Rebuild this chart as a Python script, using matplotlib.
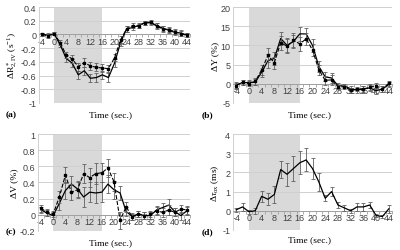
import matplotlib
matplotlib.use("Agg")
import matplotlib.pyplot as plt
import numpy as np

plt.rcParams['axes.unicode_minus'] = False
plt.rcParams['mathtext.fontset'] = 'custom'
plt.rcParams['mathtext.rm'] = 'Liberation Serif'
plt.rcParams['mathtext.it'] = 'Liberation Serif:italic'
plt.rcParams['mathtext.bf'] = 'Liberation Serif:bold'

time = [-4, -2, 0, 2, 4, 6, 8, 10, 12, 14, 16, 18, 20, 22, 24, 26, 28, 30, 32, 34, 36, 38, 40, 42, 44]
xtick_vals = [-4, 0, 4, 8, 12, 16, 20, 24, 28, 32, 36, 40, 44]

# Panel (a): delta R2* IV
a_dash = [0, -0.02, 0.01, -0.12, -0.30, -0.36, -0.47, -0.41, -0.46, -0.48, -0.49, -0.50, -0.34,
          -0.08, 0.08, 0.13, 0.12, 0.17, 0.18, 0.12, 0.08, 0.07, 0.04, 0.01, -0.01]
a_dash_err = [0.02, 0.03, 0.02, 0.04, 0.05, 0.06, 0.06, 0.06, 0.06, 0.06, 0.06, 0.05, 0.05,
              0.05, 0.04, 0.03, 0.03, 0.03, 0.03, 0.04, 0.04, 0.04, 0.04, 0.04, 0.03]
a_solid = [0, -0.01, 0.01, -0.15, -0.35, -0.42, -0.59, -0.53, -0.64, -0.63, -0.59, -0.63, -0.42,
           -0.12, 0.08, 0.10, 0.13, 0.17, 0.17, 0.13, 0.09, 0.06, 0.03, 0.02, -0.01]
a_solid_err = [0.02, 0.03, 0.02, 0.04, 0.05, 0.06, 0.06, 0.06, 0.06, 0.06, 0.06, 0.07, 0.06,
               0.05, 0.04, 0.03, 0.03, 0.03, 0.03, 0.04, 0.04, 0.04, 0.04, 0.04, 0.03]

# Panel (b): delta Y
b_dash = [-0.5, 0.4, 0, 0.6, 3.6, 7.4, 5.5, 10.7, 9.8, 11.3, 10.4, 11.7, 8.8, 3.6, 0.9, 1.0,
          -0.8, -0.8, -1.7, -1.4, -1.5, -0.9, -0.6, -1.3, 0.1]
b_dash_err = [0.8, 0.6, 0.6, 0.8, 1.2, 1.8, 1.6, 1.8, 1.8, 1.8, 1.8, 1.6, 1.6, 1.4, 1.2, 1.2,
              0.6, 0.6, 0.6, 0.6, 0.8, 0.8, 0.8, 0.8, 0.6]
b_solid = [-0.3, 0.3, 0.3, 0.4, 3.0, 6.0, 6.6, 11.8, 10.0, 11.0, 13.0, 13.0, 10.0, 4.5, 1.8, 1.5,
           -0.5, -0.6, -1.3, -1.7, -1.3, -1.1, -1.8, -1.4, -0.2]
b_solid_err = [0.8, 0.6, 0.6, 0.8, 1.2, 1.8, 1.6, 1.8, 1.8, 1.8, 1.8, 1.6, 1.6, 1.4, 1.2, 1.2,
               0.6, 0.6, 0.6, 0.6, 0.8, 0.8, 0.8, 0.8, 0.6]

# Panel (c): delta V
c_dash = [0.08, 0.03, 0.01, 0.22, 0.49, 0.28, 0.31, 0.51, 0.46, 0.51, 0.52, 0.58, 0.41, -0.07,
          0.10, -0.03, 0.01, -0.01, 0.01, 0.05, 0.03, 0.06, 0.03, 0.07, 0.06]
c_dash_err = [0.04, 0.04, 0.04, 0.08, 0.10, 0.10, 0.10, 0.12, 0.12, 0.13, 0.12, 0.11, 0.11, 0.10,
              0.06, 0.04, 0.04, 0.04, 0.04, 0.05, 0.06, 0.06, 0.05, 0.05, 0.05]
c_solid = [0.06, 0.02, -0.01, 0.14, 0.30, 0.38, 0.32, 0.22, 0.28, 0.27, 0.28, 0.38, 0.31, 0.27,
           0.04, -0.02, 0.01, -0.01, -0.01, 0.06, 0.09, 0.12, 0.04, -0.01, 0.05]
c_solid_err = [0.04, 0.04, 0.04, 0.08, 0.10, 0.10, 0.10, 0.12, 0.12, 0.13, 0.12, 0.11, 0.11, 0.09,
               0.06, 0.04, 0.04, 0.04, 0.04, 0.05, 0.06, 0.07, 0.05, 0.05, 0.05]

# Panel (d): delta tau_ox
d_vals = [0.05, 0.2, -0.05, 0.0, 0.75, 0.6, 0.85, 2.15, 1.9, 2.2, 2.5, 2.65, 2.2, 1.5, 0.65,
          1.0, 0.3, 0.15, 0.0, 0.2, 0.2, 0.3, -0.25, -0.3, 0.1]
d_err = [0.1, 0.2, 0.1, 0.15, 0.3, 0.3, 0.45, 0.45, 0.6, 0.65, 0.6, 0.6, 0.55, 0.45, 0.15,
         0.25, 0.15, 0.15, 0.1, 0.2, 0.2, 0.15, 0.1, 0.1, 0.2]

fig = plt.figure(figsize=(4.0, 2.51), dpi=100)

serif = 'Liberation Serif'
sans = 'Liberation Sans'
tick_fs = 6.5
lab_fs = 6.8

def setup(ax, ylim, yticks, ylabel, letter, letter_xy, time_xy):
    ax.axvspan(0, 16, color='#d9d9d9', zorder=0, lw=0)
    ax.set_xlim(-5, 45)
    ax.set_ylim(*ylim)
    ax.set_yticks(yticks)
    ax.set_yticklabels([('%g' % v) for v in yticks], fontsize=tick_fs, family=sans, color='#404040')
    ax.yaxis.grid(True, color='#d0d0d0', lw=0.7, zorder=0.5)
    ax.set_axisbelow(True)
    for s in ['top', 'right']:
        ax.spines[s].set_visible(False)
    ax.spines['left'].set_color('#d0d0d0')
    ax.spines['left'].set_linewidth(0.7)
    ax.spines['bottom'].set_position(('data', 0))
    ax.spines['bottom'].set_color('#a0a0a0')
    ax.spines['bottom'].set_linewidth(0.7)
    ax.tick_params(axis='y', length=0, pad=2)
    ax.set_xticks(xtick_vals)
    ax.set_xticklabels([str(v) for v in xtick_vals], fontsize=tick_fs, family=sans, color='#404040')
    ax.set_xticks([t - 1 for t in time] + [45], minor=True)
    ax.tick_params(axis='x', which='major', length=0, pad=1.5)
    ax.tick_params(axis='x', which='minor', length=2, color='#a0a0a0', width=0.6)
    ax.set_ylabel(ylabel, fontsize=lab_fs, family=serif, labelpad=1)
    fig.text(time_xy[0], time_xy[1], 'Time (sec.)', fontsize=lab_fs, family=serif,
             ha='center', va='center')
    fig.text(letter_xy[0], letter_xy[1], letter, fontsize=lab_fs, family=serif,
             fontweight='bold', ha='left', va='center')

ekw = dict(ecolor='#606060', elinewidth=0.6, capsize=1.6, capthick=0.6)

ax_a = fig.add_axes([0.0975, 0.586, 0.3775, 0.382])
ax_a.errorbar(time, a_solid, yerr=a_solid_err, color='black', lw=0.9, **ekw, zorder=3)
ax_a.errorbar(time, a_dash, yerr=a_dash_err, color='black', lw=0.8, ls='--', marker='s',
              ms=1.7, **ekw, zorder=4)
setup(ax_a, (-1, 0.4), [-1, -0.8, -0.6, -0.4, -0.2, 0, 0.2, 0.4],
      r'$\Delta\mathrm{R}^*_{2,\mathrm{IV}}\ \mathrm{(s^{-1})}$', '(a)', (0.013, 0.542), (0.275, 0.542))

ax_b = fig.add_axes([0.5825, 0.586, 0.3975, 0.382])
ax_b.errorbar(time, b_solid, yerr=b_solid_err, color='black', lw=0.9, **ekw, zorder=3)
ax_b.errorbar(time, b_dash, yerr=b_dash_err, color='black', lw=0.8, ls='--', marker='s',
              ms=1.7, **ekw, zorder=4)
setup(ax_b, (-5, 20), [-5, 0, 5, 10, 15, 20],
      'ΔY (%)', '(b)', (0.503, 0.542), (0.775, 0.542))

ax_c = fig.add_axes([0.095, 0.076, 0.38, 0.386])
ax_c.errorbar(time, c_solid, yerr=c_solid_err, color='black', lw=0.9, **ekw, zorder=3)
ax_c.errorbar(time, c_dash, yerr=c_dash_err, color='black', lw=0.8, ls='--', marker='s',
              ms=1.7, **ekw, zorder=4)
setup(ax_c, (-0.2, 1.0), [-0.2, 0, 0.2, 0.4, 0.6, 0.8, 1],
      'ΔV (%)', '(c)', (0.013, 0.075), (0.275, 0.033))

ax_d = fig.add_axes([0.5825, 0.080, 0.3975, 0.382])
ax_d.errorbar(time, d_vals, yerr=d_err, color='black', lw=0.9, **ekw, zorder=3)
setup(ax_d, (-1, 4), [-1, 0, 1, 2, 3, 4],
      r'$\Delta\tau_{\mathrm{ox}}\ \mathrm{(ms)}$', '(d)', (0.503, 0.075), (0.775, 0.045))

fig.savefig('out.png', dpi=100)
